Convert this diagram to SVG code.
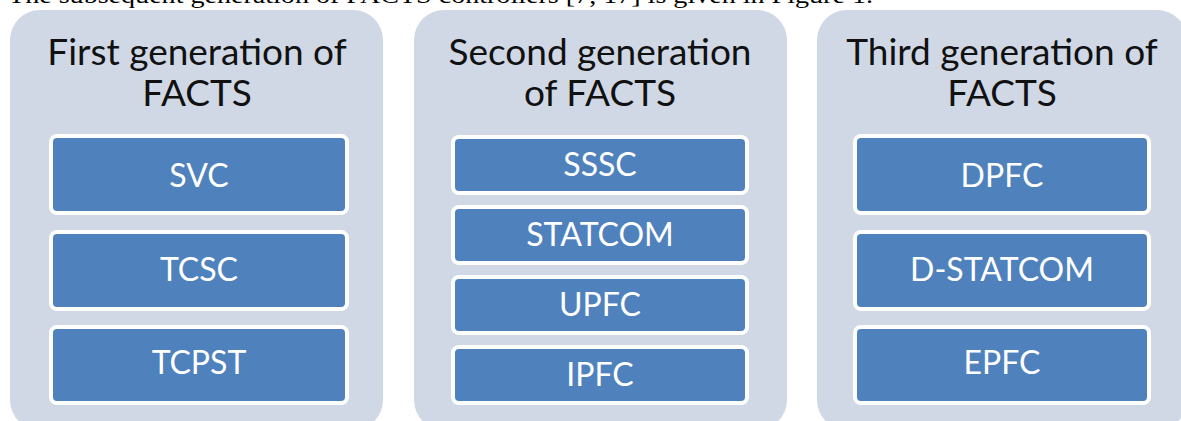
<svg xmlns="http://www.w3.org/2000/svg" width="1181" height="421" viewBox="0 0 1181 421">
<style>
.panel{fill:#d0d8e6;}
.box{fill:#4f81bd;stroke:#ffffff;stroke-width:4;}
.title{font-family:Lato,"Open Sans",sans-serif;font-size:37px;fill:#111111;text-anchor:middle;}
.lbl{font-family:Lato,"Open Sans",sans-serif;font-size:32px;fill:#ffffff;text-anchor:middle;}
.cap{font-family:"Liberation Serif",serif;font-size:24px;fill:#000000;}
</style>
<rect width="1181" height="421" fill="#ffffff"/>
<text class="cap" x="8" y="3" textLength="865" lengthAdjust="spacingAndGlyphs">The subsequent generation of FACTS controllers [7, 17] is given in Figure 1.</text>

<g id="gen1">
<rect class="panel" x="10" y="10" width="373" height="420" rx="30"/>
<text class="title" x="197" y="65">First generation of</text>
<text class="title" x="197" y="106">FACTS</text>
</g>
<g id="svc"><rect class="box" x="51" y="136" width="296" height="77" rx="6"/><text class="lbl" x="199" y="187">SVC</text></g>
<g id="tcsc"><rect class="box" x="51" y="232" width="296" height="77" rx="6"/><text class="lbl" x="199" y="281">TCSC</text></g>
<g id="tcpst"><rect class="box" x="51" y="327" width="296" height="76" rx="6"/><text class="lbl" x="199" y="374">TCPST</text></g>

<g id="gen2">
<rect class="panel" x="414" y="10" width="373" height="420" rx="30"/>
<text class="title" x="600" y="65">Second generation</text>
<text class="title" x="600" y="106">of FACTS</text>
</g>
<g id="sssc"><rect class="box" x="453" y="137" width="294" height="56" rx="6"/><text class="lbl" x="600" y="176">SSSC</text></g>
<g id="statcom"><rect class="box" x="453" y="207" width="294" height="56" rx="6"/><text class="lbl" x="600" y="246">STATCOM</text></g>
<g id="upfc"><rect class="box" x="453" y="277" width="294" height="56" rx="6"/><text class="lbl" x="600" y="316">UPFC</text></g>
<g id="ipfc"><rect class="box" x="453" y="347" width="294" height="56" rx="6"/><text class="lbl" x="600" y="386">IPFC</text></g>

<g id="gen3">
<rect class="panel" x="817" y="10" width="370" height="420" rx="30"/>
<text class="title" x="1002" y="65">Third generation of</text>
<text class="title" x="1002" y="106">FACTS</text>
</g>
<g id="dpfc"><rect class="box" x="855" y="136" width="294" height="77" rx="6"/><text class="lbl" x="1002" y="187">DPFC</text></g>
<g id="dstatcom"><rect class="box" x="855" y="232" width="294" height="77" rx="6"/><text class="lbl" x="1002" y="281">D-STATCOM</text></g>
<g id="epfc"><rect class="box" x="855" y="327" width="294" height="76" rx="6"/><text class="lbl" x="1002" y="374">EPFC</text></g>

<g id="connectors"/>
</svg>
